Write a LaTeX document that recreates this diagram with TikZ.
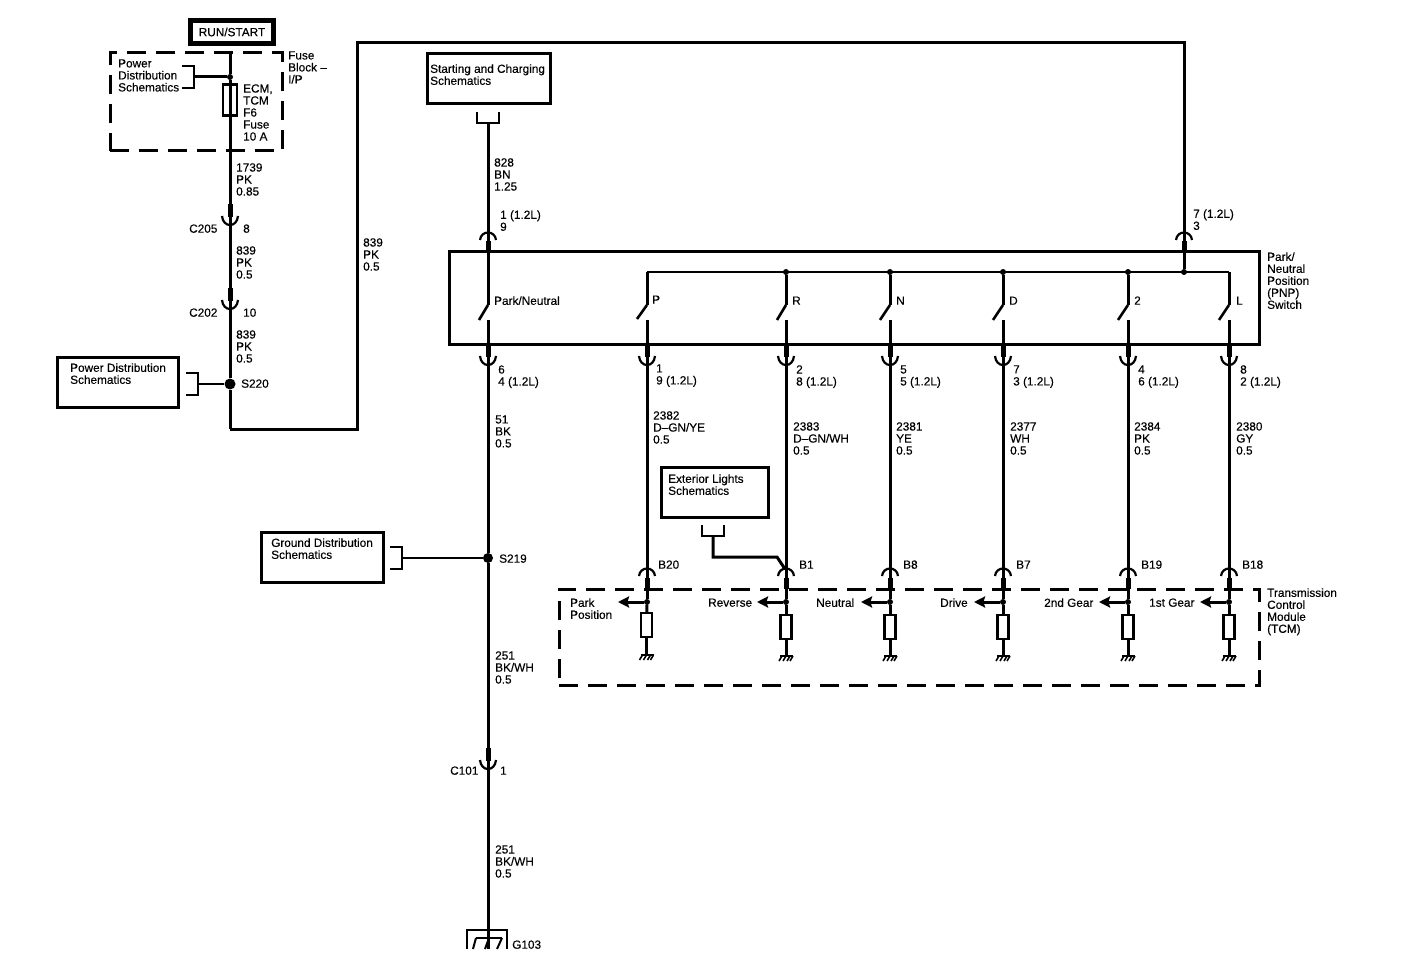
\documentclass[tikz,border=0pt]{standalone}
\usepackage{fontspec}
\setmainfont{Liberation Sans}[FakeBold=0.3]
\usetikzlibrary{arrows.meta, positioning}

\begin{document}
\begin{tikzpicture} [x=1pt, y=-1pt,
    wire/.style = {line width=3pt},
    blade/.style = {line width=2.6pt},
    lbl/.style = {anchor=north west, inner sep=0pt, yshift=4.9pt, align=left,
        font=\fontsize{11.8}{12}\selectfont, execute at begin node=\strut},
    box/.style = {draw, line width=3pt, inner sep=0pt},
    dashbox/.style = {draw, line width=3pt, inner sep=0pt, dash pattern=on 19pt off 10pt},
    part/.style = {draw, line width=2.4pt, inner sep=0pt, minimum width=11pt, minimum height=24pt},
    dot/.style = {circle, fill, inner sep=0pt, minimum size=6pt},
    bigdot/.style = {circle, fill, inner sep=0pt, minimum size=11pt},
    pointer/.style = {line width=3pt, -{Stealth[length=11pt, width=11pt, inset=1.5pt]}},
    plugdown/.pic = {
        \draw [line width=2.2pt] (-8,0) .. controls (-7,12) and (7,12) .. (8,0);
        \draw [line width=5pt] (0,-12) -- (0,1);
    },
    plugup/.pic = {
        \draw [line width=2.2pt] (-8,0) .. controls (-7,-10) and (7,-10) .. (8,0);
        \draw [line width=5pt] (0,1.5) -- (0,12.5);
    },
    brackright/.pic = {
        \draw [line width=2.6pt] (-12,-11) -- (0,-11) -- (0,11) -- (-12,11);
    },
    brackdown/.pic = {
        \draw [line width=2.6pt] (-11,-11) -- (-11,0) -- (11,0) -- (11,-11);
    },
    gnd/.pic = {
        \draw [line width=2.4pt] (-6,0) -- (7,0);
        \draw [line width=1.6pt] (-4,0) -- (-7,5) (0,0) -- (-3,5) (4,0) -- (1,5) (7,0) -- (4,5);
    },
    biggnd/.pic = {
        \draw [line width=2.4pt] (-21,19) -- (-21,0) -- (19,0) -- (19,19);
        \draw [line width=2pt] (-12,8) -- (14,8);
        \draw [line width=2pt] (-12,8) -- (-15,19) (1,8) -- (-3,19) (14,8) -- (9,19);
    }]
\useasboundingbox (0,0) rectangle (1408,976);

% supply side
\node (runbox) [box, line width=5pt, minimum width=83pt, minimum height=23pt] at (232,32) {};
\node (run) [font=\fontsize{11.8}{12}\selectfont, inner sep=0pt] at (232,32) {RUN/START};
\node (fusebox) [dashbox, minimum width=172pt, minimum height=98pt] at (196,102) {};
\node (fuse) [part, minimum width=14pt, minimum height=31pt] at (230,100) {};
\node (fusejoin) [dot] at (230,77) {};
\coordinate (feed) at (230,53);
\coordinate (c205) at (230,216);
\coordinate (c202) at (230,300);
\node (s220) [bigdot] at (230,384) {};
\coordinate (corner1) at (230,429);
\coordinate (corner2) at (357,43);
\coordinate (pin7) at (1184,240);
\node (buspin) [dot] at (1184,272) {};
\coordinate (brack1) at (194,77);
\coordinate (brack2) at (198,384);

\path [wire] (feed) edge (fusejoin);
\path [wire] (fusejoin) edge (c205);
\path [wire] (c205) edge (c202);
\path [wire] (c202) edge (s220);
\path [wire] (s220) edge (corner1);
\draw [wire] (corner1) -| (corner2) -| (buspin);
\path [wire] (brack1) edge (fusejoin);
\path [line width=2.4pt] (brack2) edge (s220);
\pic at (brack1) {brackright};
\pic at (brack2) {brackright};
\pic at (c205) {plugdown};
\pic at (c202) {plugdown};
\pic at (pin7) {plugup};

\node (t1) [lbl] at (118,64) {Power\\Distribution\\Schematics};
\node (t2) [lbl] at (288,56) {Fuse\\Block –\\I/P};
\node (t3) [lbl] at (243,89) {ECM,\\TCM\\F6\\Fuse\\10 A};
\node (t4) [lbl] at (236,168) {1739\\PK\\0.85};
\node (t5) [lbl] at (189,229) {C205};
\node (t6) [lbl] at (243,229) {8};
\node (t7) [lbl] at (236,251) {839\\PK\\0.5};
\node (t8) [lbl] at (189,313) {C202};
\node (t9) [lbl] at (243,313) {10};
\node (t10) [lbl] at (236,335) {839\\PK\\0.5};
\node (t11) [lbl] at (241,384) {S220};
\node (t12) [lbl] at (363,243) {839\\PK\\0.5};
\node (t13) [lbl] at (1193,214) {7 (1.2L)\\3};
\node (powerbox) [box, minimum width=121pt, minimum height=50pt] at (117.5,382) {};
\node (t14) [lbl] at (70,368) {Power Distribution\\Schematics};

% starting and charging, switch
\node (startbox) [box, minimum width=123pt, minimum height=50pt] at (488.5,79) {};
\node (t15) [lbl] at (430,69) {Starting and Charging\\Schematics};
\node (switchbox) [box, minimum width=810pt, minimum height=92pt] at (854,298) {};
\node (t16) [lbl] at (1267,257) {Park/\\Neutral\\Position\\(PNP)\\Switch};
\coordinate (brack3) at (488,123);
\coordinate (pin1) at (488,240);
\coordinate (contact0) at (488,305);
\coordinate [below = 15pt of contact0] (open0);
\coordinate (pin6) at (488,356);

\path [wire] (brack3) edge (contact0);
\path [blade] (contact0) edge ++(-9,15);
\path [wire] (open0) edge (pin6);
\pic at (brack3) {brackdown};
\pic at (pin1) {plugup};
\pic at (pin6) {plugdown};

\node (t17) [lbl] at (494,163) {828\\BN\\1.25};
\node (t18) [lbl] at (500,215) {1 (1.2L)\\9};
\node (t19) [lbl] at (494,301) {Park/Neutral};
\node (t20) [lbl] at (498,370) {6\\4 (1.2L)};
\node (t21) [lbl] at (495,420) {51\\BK\\0.5};

% common bus of the gear contacts
\coordinate (bus1) at (647,272);
\node (bus2) [dot] at (786,272) {};
\node (bus3) [dot] at (890,272) {};
\node (bus4) [dot] at (1003,272) {};
\node (bus5) [dot] at (1128,272) {};
\coordinate (bus6) at (1229,272);
\draw [line width=2.4pt] (bus1) -- (bus6);

\coordinate (contact1) at (647,305);
\coordinate (contact2) at (786,305);
\coordinate (contact3) at (890,305);
\coordinate (contact4) at (1003,305);
\coordinate (contact5) at (1128,305);
\coordinate (contact6) at (1229,305);
\coordinate [below = 15pt of contact1] (open1);
\coordinate [below = 15pt of contact2] (open2);
\coordinate [below = 15pt of contact3] (open3);
\coordinate [below = 15pt of contact4] (open4);
\coordinate [below = 15pt of contact5] (open5);
\coordinate [below = 15pt of contact6] (open6);
\coordinate [below = 36pt of open1] (hi1);
\coordinate [below = 36pt of open2] (hi2);
\coordinate [below = 36pt of open3] (hi3);
\coordinate [below = 36pt of open4] (hi4);
\coordinate [below = 36pt of open5] (hi5);
\coordinate [below = 36pt of open6] (hi6);
\coordinate (lo1) at (647,576);
\coordinate (lo2) at (786,576);
\coordinate (lo3) at (890,576);
\coordinate (lo4) at (1003,576);
\coordinate (lo5) at (1128,576);
\coordinate (lo6) at (1229,576);
\node (sense1) [dot] at (647,602) {};
\node (sense2) [dot] at (786,602) {};
\node (sense3) [dot] at (890,602) {};
\node (sense4) [dot] at (1003,602) {};
\node (sense5) [dot] at (1128,602) {};
\node (sense6) [dot] at (1229,602) {};
\node (res1) [part] at (646.5,625) {};
\node (res2) [part] at (786,627) {};
\node (res3) [part] at (890,627) {};
\node (res4) [part] at (1003,627) {};
\node (res5) [part] at (1128,627) {};
\node (res6) [part] at (1229,627) {};
\coordinate (gnd1) at (646.5,655);
\coordinate (gnd2) at (786,656);
\coordinate (gnd3) at (890,656);
\coordinate (gnd4) at (1003,656);
\coordinate (gnd5) at (1128,656);
\coordinate (gnd6) at (1229,656);
\coordinate (tip1) at (618,602);
\coordinate (tip2) at (757,602);
\coordinate (tip3) at (861,602);
\coordinate (tip4) at (974,602);
\coordinate (tip5) at (1099,602);
\coordinate (tip6) at (1200,602);

\path [wire] (bus1) edge (contact1);
\path [wire] (bus2) edge (contact2);
\path [wire] (bus3) edge (contact3);
\path [wire] (bus4) edge (contact4);
\path [wire] (bus5) edge (contact5);
\path [wire] (bus6) edge (contact6);
\path [blade] (contact1) edge ++(-10,14);
\path [blade] (contact2) edge ++(-9,15);
\path [blade] (contact3) edge ++(-10,15);
\path [blade] (contact4) edge ++(-10,15);
\path [blade] (contact5) edge ++(-10,15);
\path [blade] (contact6) edge ++(-10,15);
\path [wire] (open1) edge (lo1);
\path [wire] (open2) edge (lo2);
\path [wire] (open3) edge (lo3);
\path [wire] (open4) edge (lo4);
\path [wire] (open5) edge (lo5);
\path [wire] (open6) edge (lo6);
\path [wire] (lo1) edge (sense1);
\path [wire] (lo2) edge (sense2);
\path [wire] (lo3) edge (sense3);
\path [wire] (lo4) edge (sense4);
\path [wire] (lo5) edge (sense5);
\path [wire] (lo6) edge (sense6);
\path [wire] (sense1) edge (res1);
\path [wire] (sense2) edge (res2);
\path [wire] (sense3) edge (res3);
\path [wire] (sense4) edge (res4);
\path [wire] (sense5) edge (res5);
\path [wire] (sense6) edge (res6);
\path [wire] (res1) edge (gnd1);
\path [wire] (res2) edge (gnd2);
\path [wire] (res3) edge (gnd3);
\path [wire] (res4) edge (gnd4);
\path [wire] (res5) edge (gnd5);
\path [wire] (res6) edge (gnd6);
\path [pointer] (sense1) edge (tip1);
\path [pointer] (sense2) edge (tip2);
\path [pointer] (sense3) edge (tip3);
\path [pointer] (sense4) edge (tip4);
\path [pointer] (sense5) edge (tip5);
\path [pointer] (sense6) edge (tip6);
\pic at (hi1) {plugdown};
\pic at (hi2) {plugdown};
\pic at (hi3) {plugdown};
\pic at (hi4) {plugdown};
\pic at (hi5) {plugdown};
\pic at (hi6) {plugdown};
\pic at (lo1) {plugup};
\pic at (lo2) {plugup};
\pic at (lo3) {plugup};
\pic at (lo4) {plugup};
\pic at (lo5) {plugup};
\pic at (lo6) {plugup};
\pic at (gnd1) {gnd};
\pic at (gnd2) {gnd};
\pic at (gnd3) {gnd};
\pic at (gnd4) {gnd};
\pic at (gnd5) {gnd};
\pic at (gnd6) {gnd};

\node (t22) [lbl] at (652,300) {P};
\node (t23) [lbl] at (792,301) {R};
\node (t24) [lbl] at (896,301) {N};
\node (t25) [lbl] at (1009,301) {D};
\node (t26) [lbl] at (1134,301) {2};
\node (t27) [lbl] at (1236,301) {L};
\node (t28) [lbl] at (656,369) {1\\9 (1.2L)};
\node (t29) [lbl] at (796,370) {2\\8 (1.2L)};
\node (t30) [lbl] at (900,370) {5\\5 (1.2L)};
\node (t31) [lbl] at (1013,370) {7\\3 (1.2L)};
\node (t32) [lbl] at (1138,370) {4\\6 (1.2L)};
\node (t33) [lbl] at (1240,370) {8\\2 (1.2L)};
\node (t34) [lbl] at (653,416) {2382\\D–GN/YE\\0.5};
\node (t35) [lbl] at (793,427) {2383\\D–GN/WH\\0.5};
\node (t36) [lbl] at (896,427) {2381\\YE\\0.5};
\node (t37) [lbl] at (1010,427) {2377\\WH\\0.5};
\node (t38) [lbl] at (1134,427) {2384\\PK\\0.5};
\node (t39) [lbl] at (1236,427) {2380\\GY\\0.5};
\node (t40) [lbl] at (658,565) {B20};
\node (t41) [lbl] at (799,565) {B1};
\node (t42) [lbl] at (903,565) {B8};
\node (t43) [lbl] at (1016,565) {B7};
\node (t44) [lbl] at (1141,565) {B19};
\node (t45) [lbl] at (1242,565) {B18};
\node (t46) [lbl] at (570,603) {Park\\Position};
\node (t47) [lbl] at (708,603) {Reverse};
\node (t48) [lbl] at (816,603) {Neutral};
\node (t49) [lbl] at (940,603) {Drive};
\node (t50) [lbl] at (1044,603) {2nd Gear};
\node (t51) [lbl] at (1149,603) {1st Gear};

% exterior lights
\node (lightbox) [box, minimum width=107pt, minimum height=50pt] at (714.5,492) {};
\node (t52) [lbl] at (668,479) {Exterior Lights\\Schematics};
\coordinate (brack4) at (713,536);
\coordinate (bend1) at (713,557);
\coordinate (bend2) at (777,557);
\coordinate (bend3) at (785,569);
\draw [wire] (brack4) -- (bend1) -- (bend2) -- (bend3);
\pic at (brack4) {brackdown};

% control module
\node (tcmbox) [dashbox, minimum width=700pt, minimum height=96pt] at (909,637) {};
\node (t53) [lbl] at (1267,593) {Transmission\\Control\\Module\\(TCM)};

% ground side
\node (groundbox) [box, minimum width=122pt, minimum height=50pt] at (322,557) {};
\node (t54) [lbl] at (271,543) {Ground Distribution\\Schematics};
\coordinate (brack5) at (402,558);
\node (s219) [bigdot, minimum size=10pt] at (488,558) {};
\coordinate (c101) at (488,760);
\coordinate (g103) at (488,930);
\coordinate (g103end) at (488,949);
\path [wire] (pin6) edge (s219);
\path [wire] (s219) edge (c101);
\path [wire] (c101) edge (g103end);
\path [line width=2.4pt] (brack5) edge (s219);
\pic at (brack5) {brackright};
\pic at (c101) {plugdown};
\pic at (g103) {biggnd};
\node (t55) [lbl] at (499,559) {S219};
\node (t56) [lbl] at (495,656) {251\\BK/WH\\0.5};
\node (t57) [lbl] at (450,771) {C101};
\node (t58) [lbl] at (500,771) {1};
\node (t59) [lbl] at (495,850) {251\\BK/WH\\0.5};
\node (t60) [lbl] at (512,945) {G103};
\end{tikzpicture}
\end{document}
